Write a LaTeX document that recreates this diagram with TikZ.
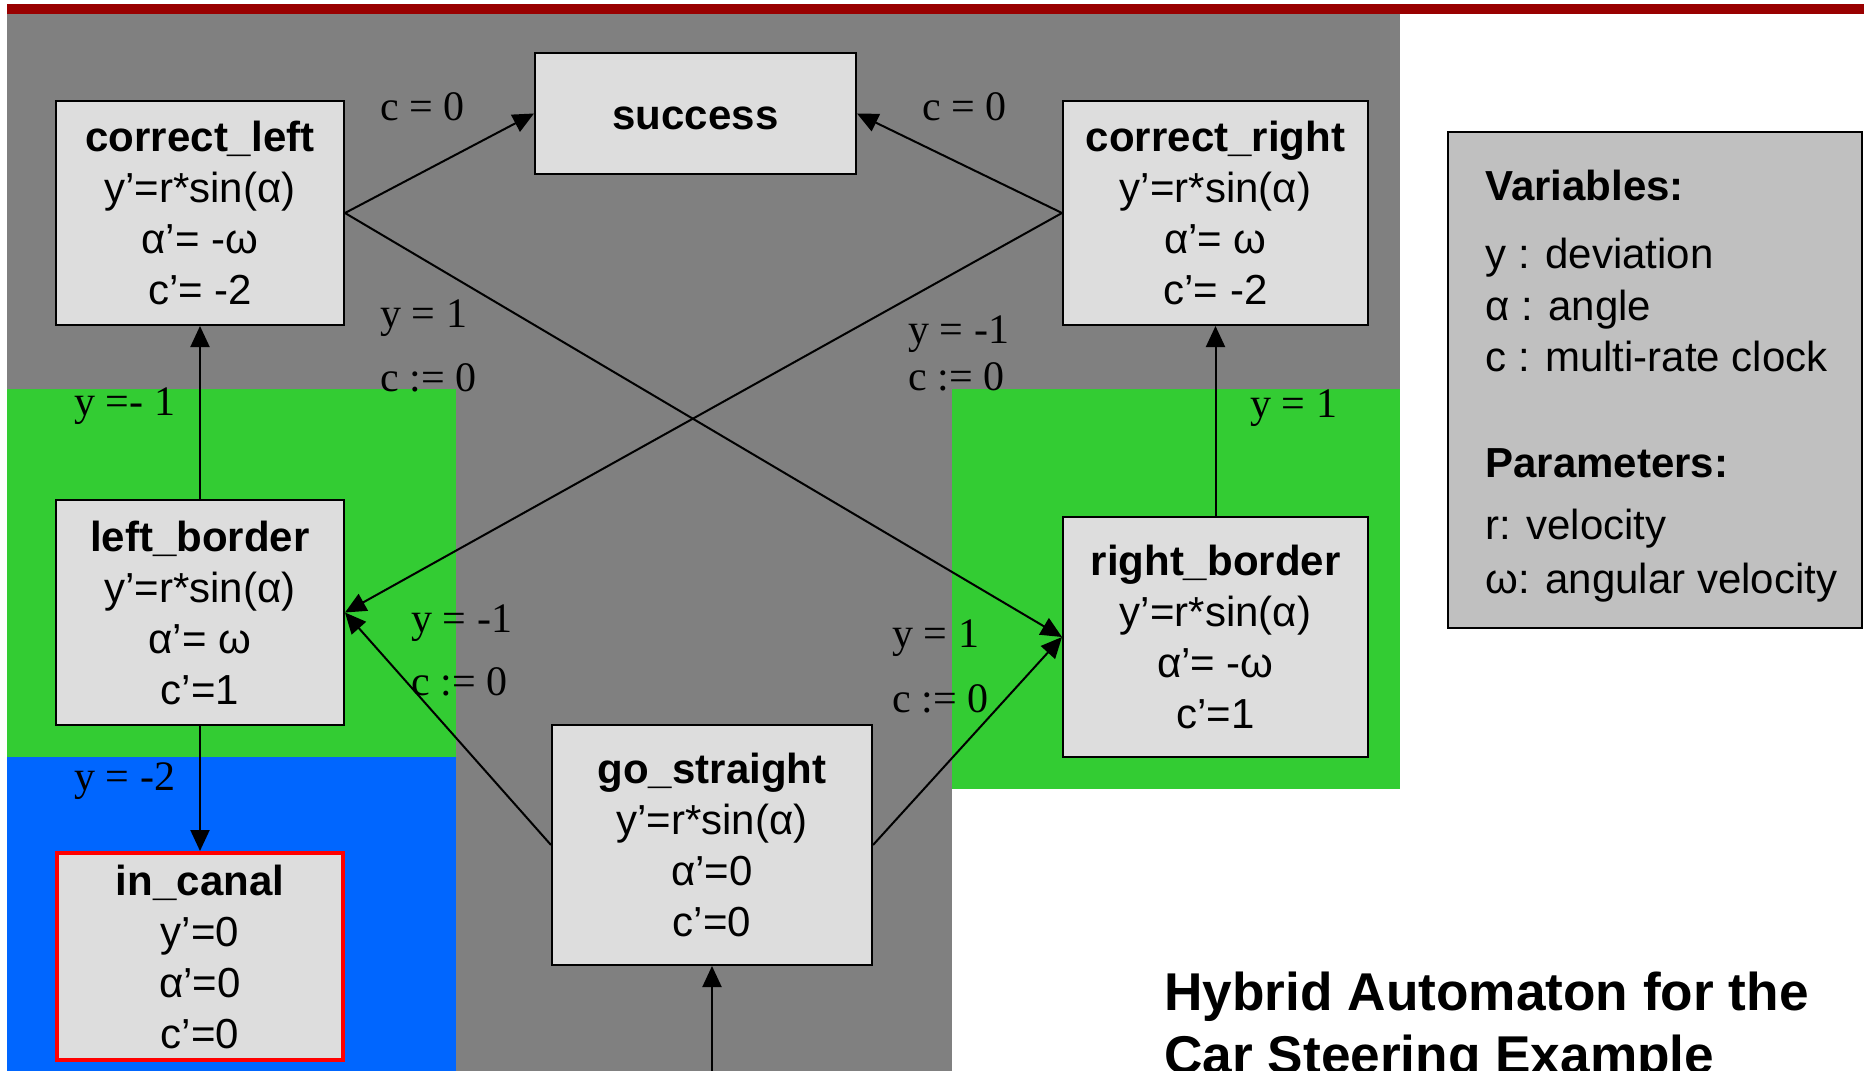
\documentclass[tikz,border=0pt]{standalone}
\usepackage{fontspec}
\setmainfont{Liberation Serif}
\newfontfamily\hv{Liberation Sans}
\usetikzlibrary{arrows.meta}

\definecolor{topbar}{RGB}{153,0,0}
\definecolor{zonegray}{RGB}{128,128,128}
\definecolor{zonegreen}{RGB}{51,204,51}
\definecolor{zoneblue}{RGB}{0,102,255}
\definecolor{boxfill}{RGB}{221,221,221}
\definecolor{legendfill}{RGB}{192,192,192}
\definecolor{alarm}{RGB}{255,0,0}

\begin{document}
\begin{tikzpicture}[x=0.5pt,y=-0.5pt,
  state/.style={draw=black, line width=1pt, fill=boxfill, inner sep=0pt,
    align=center, font=\hv\fontsize{21}{25.5}\selectfont},
  guard/.style={inner sep=0pt, anchor=base west, font=\fontsize{21}{25.5}\selectfont},
  legendtext/.style={inner sep=0pt, anchor=base west, font=\hv\fontsize{21}{25.5}\selectfont},
  titletext/.style={inner sep=0pt, anchor=base west, font=\hv\bfseries\fontsize{26.6}{31.5}\selectfont},
  arr/.style={draw=black, line width=1pt, -{Triangle[length=10.5pt,width=9.5pt]}}]

\useasboundingbox (0,0) rectangle (1864,1071);
\clip (0,0) rectangle (1864,1071);

% zones of the road
\fill[topbar] (7,4) rectangle (1864,14);
\fill[zonegray] (7,14) rectangle (1400,389);
\fill[zonegreen] (7,389) rectangle (456,757);
\fill[zoneblue] (7,757) rectangle (456,1071);
\fill[zonegray] (456,389) rectangle (952,1071);
\fill[zonegreen] (952,389) rectangle (1400,789);

% locations of the automaton
\node[state, minimum width=144pt, minimum height=112pt] (correct_left) at (200,213)
  {{\bfseries correct\_left}\\y’=r*sin(α)\\α’= -ω\\c’= -2};
\node[state, minimum width=160.5pt, minimum height=60.5pt, text height=15.5pt, text depth=0pt,
  font=\hv\bfseries\fontsize{21}{25.5}\selectfont] (success) at (695.5,113.5) {success};
\node[state, minimum width=152.5pt, minimum height=112pt] (correct_right) at (1215.5,213)
  {{\bfseries correct\_right}\\y’=r*sin(α)\\α’= ω\\c’= -2};
\node[state, minimum width=144pt, minimum height=112.5pt] (left_border) at (200,612.5)
  {{\bfseries left\_border}\\y’=r*sin(α)\\α’= ω\\c’=1};
\node[state, minimum width=152.5pt, minimum height=120pt] (right_border) at (1215.5,637)
  {{\bfseries right\_border}\\y’=r*sin(α)\\α’= -ω\\c’=1};
\node[state, draw=alarm, line width=2pt, minimum width=143pt, minimum height=103.5pt] (in_canal) at (200,956.5)
  {{\bfseries in\_canal}\\y’=0\\α’=0\\c’=0};
\node[state, minimum width=160pt, minimum height=120pt] (go_straight) at (712,845)
  {{\bfseries go\_straight}\\y’=r*sin(α)\\α’=0\\c’=0};

% transitions
\coordinate (entry) at (712,1090);
\draw[arr] (correct_left.east) -- (success.west);
\draw[arr] (correct_right.west) -- (success.east);
\draw[arr] (correct_left.east) -- (right_border.west);
\draw[arr] (correct_right.west) -- (left_border.east);
\draw[arr] (go_straight.west) -- (left_border.east);
\draw[arr] (go_straight.east) -- (right_border.west);
\draw[arr] (left_border.north) -- (correct_left.south);
\draw[arr] (right_border.north) -- (correct_right.south);
\draw[arr] (left_border.south) -- (in_canal.north);
\draw[arr] (entry) -- (go_straight.south);

% guards and resets
\node[guard] (g1) at (380,120) {c = 0};
\node[guard] (g2) at (922,120) {c = 0};
\node[guard] (g3) at (380,327) {y = 1};
\node[guard] (g4) at (380,391) {c := 0};
\node[guard] (g5) at (908,343) {y = -1};
\node[guard] (g6) at (908,390) {c := 0};
\node[guard] (g7) at (74,415) {y =- 1};
\node[guard] (g8) at (1250,417) {y = 1};
\node[guard] (g9) at (74,790.5) {y = -2};
\node[guard] (g10) at (411,632) {y = -1};
\node[guard] (g11) at (411,695) {c := 0};
\node[guard] (g12) at (892,647) {y = 1};
\node[guard] (g13) at (892,712) {c := 0};

% legend
\node[draw=black, line width=1pt, fill=legendfill, inner sep=0pt,
  minimum width=207pt, minimum height=248pt] (legend) at (1655,380) {};
\node[legendtext, font=\hv\bfseries\fontsize{21}{25.5}\selectfont] (lv) at (1485,200) {Variables:};
\node[legendtext] (l1) at (1485,268) {y : deviation};
\node[legendtext] (l2) at (1485,320) {α : angle};
\node[legendtext] (l3) at (1485,371) {c : multi-rate clock};
\node[legendtext, font=\hv\bfseries\fontsize{21}{25.5}\selectfont] (lp) at (1485,477) {Parameters:};
\node[legendtext] (l4) at (1485,539) {r: velocity};
\node[legendtext] (l5) at (1485,593) {ω: angular velocity};

% title, running off the lower edge
\node[titletext] (t1) at (1164,1010) {Hybrid Automaton for the};
\node[titletext] (t2) at (1164,1073) {Car Steering Example};
\end{tikzpicture}
\end{document}
